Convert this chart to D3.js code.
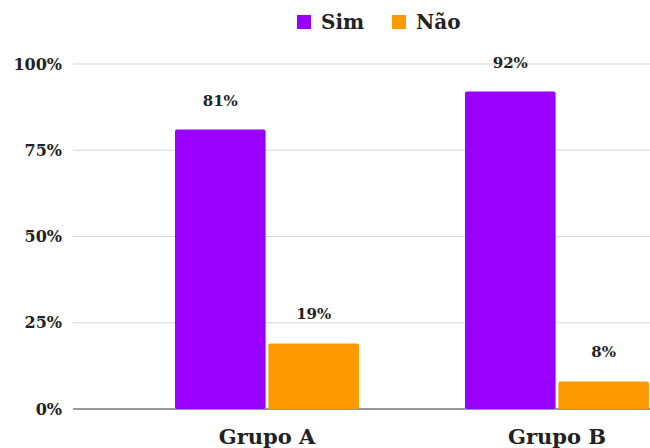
<!DOCTYPE html>
<html>
<head>
<meta charset="utf-8">
<script src="https://cdn.jsdelivr.net/npm/d3@7"></script>
<style>
  body { margin: 0; background: #fff; }
  text { font-family: "DejaVu Serif", serif; font-weight: bold; fill: #222; }
</style>
</head>
<body>
<script>
var groups = ["Grupo A", "Grupo B"];
var series = ["Sim", "Não"];
var simValues = [81, 92];
var naoValues = [19, 8];
var yTicks = [0, 25, 50, 75, 100];
var colors = ["#9900ff", "#ff9900"];

var width = 650, height = 448;

var svg = d3.select("body").append("svg")
            .attr("width", width)
            .attr("height", height);

var y = d3.scaleLinear().domain([0, 100]).range([409, 64]);

var x0 = d3.scaleBand().domain(groups).range([122, 702]).padding(0);
var half = 92;
var x1 = d3.scaleBand().domain(series)
           .range([x0.bandwidth() / 2 - half, x0.bandwidth() / 2 + half])
           .paddingInner(0.03);

// grid lines
svg.append("g")
   .selectAll("line")
   .data(yTicks)
   .enter()
   .append("line")
   .attr("x1", 73)
   .attr("x2", width)
   .attr("y1", function (d) { return y(d); })
   .attr("y2", function (d) { return y(d); })
   .attr("stroke", function (d) { return d === 0 ? "#333" : "#d6d6d6"; })
   .attr("stroke-width", function (d) { return d === 0 ? 1.2 : 1; });

// y axis labels
var yAxis = d3.axisLeft(y).tickValues(yTicks)
              .tickFormat(function (d) { return d + "%"; })
              .tickSize(0).tickPadding(0);
var gy = svg.append("g").attr("transform", "translate(62,0)").call(yAxis);
gy.select(".domain").remove();
gy.selectAll("text").style("font-size", "16px").style("font-family", "'DejaVu Serif', serif")
  .style("font-weight", "bold").attr("fill", "#222");

// bars
var rows = groups.map(function (g, i) {
  return { group: g, values: [simValues[i], naoValues[i]] };
});

var gg = svg.selectAll(".grp")
            .data(rows)
            .enter()
            .append("g")
            .attr("class", "grp")
            .attr("transform", function (d) { return "translate(" + x0(d.group) + ",0)"; });

var cells = gg.selectAll("g.cell")
              .data(function (d) { return d.values.map(function (v, j) { return { s: series[j], v: v, j: j }; }); })
              .enter()
              .append("g")
              .attr("class", "cell");

cells.append("rect")
     .attr("x", function (d) { return x1(d.s); })
     .attr("y", function (d) { return y(d.v); })
     .attr("width", x1.bandwidth())
     .attr("height", function (d) { return y(0) - y(d.v); })
     .attr("rx", 2)
     .attr("fill", function (d) { return colors[d.j]; });

cells.append("text")
     .attr("x", function (d) { return x1(d.s) + x1.bandwidth() / 2; })
     .attr("y", function (d) { return y(d.v) - 24; })
     .attr("text-anchor", "middle")
     .style("font-size", "15px")
     .text(function (d) { return d.v + "%"; });

// x labels
svg.append("g")
   .selectAll("text")
   .data(groups)
   .enter()
   .append("text")
   .attr("x", function (d) { return x0(d) + x0.bandwidth() / 2; })
   .attr("y", 444)
   .attr("text-anchor", "middle")
   .style("font-size", "21px")
   .text(function (d) { return d; });

// legend
var legendX = [297, 392];
var leg = svg.append("g")
             .selectAll("g")
             .data(series)
             .enter()
             .append("g")
             .attr("transform", function (d, i) { return "translate(" + legendX[i] + ",15)"; });
leg.append("rect")
   .attr("width", 14).attr("height", 14)
   .attr("fill", function (d, i) { return colors[i]; });
leg.append("text")
   .attr("x", 24).attr("y", 14)
   .style("font-size", "20px")
   .text(function (d) { return d; });
</script>
</body>
</html>
